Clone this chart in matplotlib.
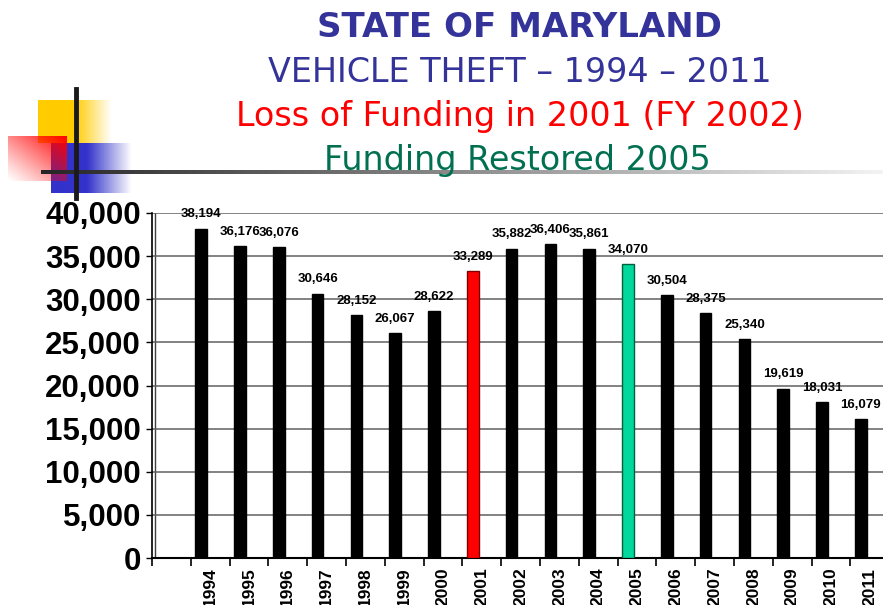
import numpy as np
import matplotlib
matplotlib.use("Agg")
import matplotlib.pyplot as plt
from matplotlib.ticker import FuncFormatter, FixedLocator

# data
years = ["1994", "1995", "1996", "1997", "1998", "1999", "2000", "2001", "2002",
         "2003", "2004", "2005", "2006", "2007", "2008", "2009", "2010", "2011"]
thefts = [38194, 36176, 36076, 30646, 28152, 26067, 28622, 33289, 35882,
          36406, 35861, 34070, 30504, 28375, 25340, 19619, 18031, 16079]
highlight = {"2001": ("#ff0000", "#800000"), "2005": ("#00d89c", "#00603c")}

W, H = 883, 605
fig = plt.figure(figsize=(W / 100, H / 100), dpi=100)


def fx(px):
    return px / W


def fy(px):
    return 1 - px / H


def gradient_box(x0, y0, x1, y1, rgb, solid_until=None, diag=False, zorder=0):
    # decorative square that fades into white
    ax = fig.add_axes([fx(x0), fy(y1), fx(x1 - x0), (y1 - y0) / H], zorder=zorder)
    ax.axis("off")
    n = 100
    img = np.ones((n, n, 4))
    img[..., :3] = rgb
    xs = np.linspace(0, 1, n)
    if diag:
        yy, xx = np.meshgrid(np.linspace(1, 0, n), xs, indexing="ij")
        a = np.clip((xx + yy) / 2, 0, 1) ** 1.1
    else:
        s = solid_until
        a = np.where(xs < s, 1.0, np.clip(1 - (xs - s) / (1 - s), 0, 1))
        a = np.tile(a, (n, 1))
    img[..., 3] = a
    ax.imshow(img, extent=[0, 1, 0, 1], aspect="auto")
    return ax


gradient_box(38, 100, 112, 143, (1.0, 0.8, 0.0), solid_until=0.5)
gradient_box(51, 143, 132, 193, (0.2, 0.2, 0.8), solid_until=0.45)
gradient_box(8, 136, 67, 181, (1.0, 0.0, 0.0), diag=True, zorder=1)

# horizontal rule fading from dark to light
rule = fig.add_axes([fx(41), fy(174), fx(883 - 41), 4 / H], zorder=2)
rule.axis("off")
shade = np.linspace(0.15, 0.95, 200)
rule.imshow(np.tile(shade, (2, 1)), cmap="gray", vmin=0, vmax=1,
            extent=[0, 1, 0, 1], aspect="auto")
fig.add_artist(plt.Line2D([fx(76), fx(76)], [fy(89), fy(198)], color="#1a1a1a",
                          lw=3.5, zorder=3))

# titles
fig.text(fx(519), fy(37), "STATE OF MARYLAND", color="#333399", fontsize=24.5,
         fontweight="bold", ha="center", va="baseline")
fig.text(fx(520), fy(82), "VEHICLE THEFT \u2013 1994 \u2013 2011", color="#333399",
         fontsize=24, ha="center", va="baseline")
fig.text(fx(520), fy(126), "Loss of Funding in 2001 (FY 2002)", color="#ff0000",
         fontsize=24, ha="center", va="baseline")
fig.text(fx(517), fy(170), "Funding Restored 2005", color="#007050",
         fontsize=24, ha="center", va="baseline")

# main chart: slot 0 is an empty category, years sit in slots 1..18
slot_w = 38.8
ax = fig.add_axes([fx(152), 47 / H, fx(19 * slot_w), 345 / H])
pos = np.arange(1, len(years) + 1)
bar_x = pos - 0.23
colors = [highlight.get(y, ("black", "black"))[0] for y in years]
edges = [highlight.get(y, ("black", "black"))[1] for y in years]
ax.bar(bar_x, thefts, width=0.3, color=colors, edgecolor=edges, linewidth=1, zorder=3)

for x, v in zip(bar_x, thefts):
    ax.annotate(f"{v:,}", (x, v), xytext=(0, 6), textcoords="offset points",
                ha="center", va="bottom", fontsize=9.5, fontweight="bold",
                family="Liberation Sans", annotation_clip=False)

ax.set_xlim(-0.5, 18.5)
ax.set_ylim(0, 40000)
ax.set_yticks(np.arange(0, 40001, 5000))
ax.yaxis.set_major_formatter(FuncFormatter(lambda v, p: f"{int(v):,}"))
ax.grid(axis="y", color="#606060", lw=1.1, zorder=0)
# back wall edge
ax.axvline(-0.5 + 3 / slot_w, color="#404040", lw=1, zorder=1)
ax.set_xticks(pos)
ax.set_xticklabels(years, rotation=90, fontsize=12.5, fontweight="bold",
                   family="Liberation Sans", va="top")
ax.xaxis.set_minor_locator(FixedLocator(np.arange(-0.5, 19, 1)))
ax.tick_params(axis="x", which="major", length=0, pad=7)
ax.tick_params(axis="x", which="minor", length=6, direction="out", width=1.2)
ax.tick_params(axis="y", length=4, width=1, pad=4)
for lab in ax.get_yticklabels():
    lab.set_fontsize(22.5)
    lab.set_fontweight("bold")
    lab.set_family("Liberation Sans")
for s in ["top", "right"]:
    ax.spines[s].set_visible(False)
ax.spines["left"].set_linewidth(1.2)
ax.spines["bottom"].set_linewidth(1.5)

fig.savefig("out.png", dpi=100)
